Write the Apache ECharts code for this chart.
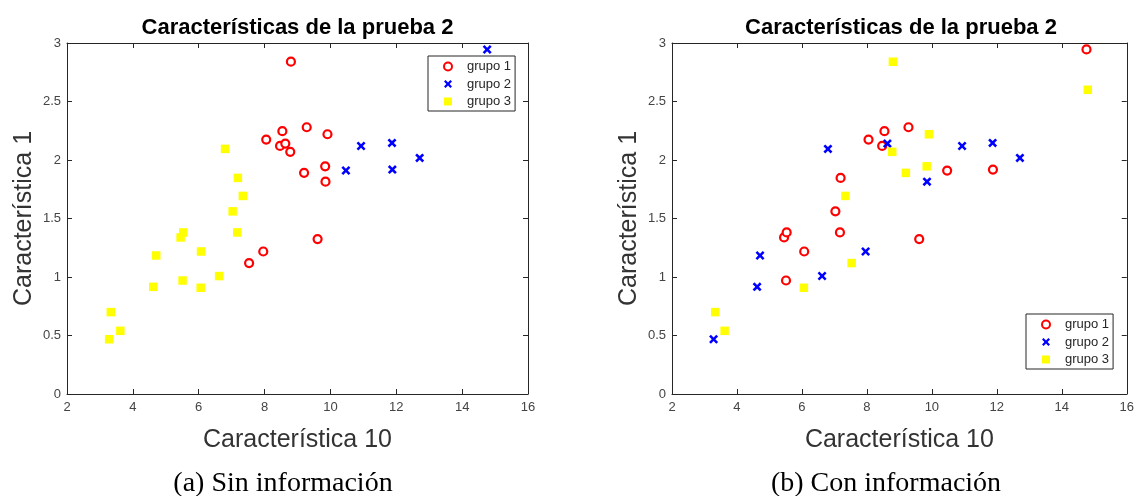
<!DOCTYPE html>
<html><head><meta charset="utf-8">
<script src="https://cdn.jsdelivr.net/npm/echarts@6/dist/echarts.min.js"></script>
<style>html,body{margin:0;padding:0;background:#fff}#c{width:1137px;height:496px}</style>
</head><body><div id="c"></div>
<script>
// ---- data (x = Característica 10, y = Característica 1) ----
const groupNames = ['grupo 1', 'grupo 2', 'grupo 3'];
const xRange = [2, 16, 2];      // min, max, tick interval
const yRange = [0, 3, 0.5];
const chartTitle = 'Características de la prueba 2';
const xName = 'Característica 10';
const yName = 'Característica 1';
const captions = ['(a) Sin información', '(b) Con información'];

// (a) Sin información
const g1Left = [[8.80,2.84],[8.05,2.175],[8.54,2.246],[9.28,2.28],[8.47,2.12],[8.63,2.14],[8.78,2.07],[9.20,1.89],[9.91,2.22],[9.84,1.946],[9.85,1.815],[9.61,1.324],[7.53,1.119],[7.96,1.218]];
const g2Left = [[14.76,2.945],[10.93,2.12],[11.87,2.146],[10.47,1.91],[11.88,1.918],[12.71,2.018],[14.80,2.60]];
const g3Left = [[3.33,0.70],[3.62,0.54],[3.28,0.468],[4.71,1.184],[4.62,0.916],[5.45,1.338],[5.53,1.381],[5.51,0.970],[6.07,1.218],[6.06,0.908],[6.62,1.008],[7.03,1.561],[7.17,1.381],[6.80,2.095],[7.19,1.847],[7.34,1.693]];

// (b) Con información
const g1Right = [[8.05,2.175],[7.19,1.847],[7.03,1.561],[14.76,2.945],[8.54,2.246],[9.28,2.28],[8.47,2.12],[10.47,1.91],[11.88,1.918],[9.61,1.324],[7.17,1.381],[5.45,1.338],[5.53,1.381],[5.51,0.970],[6.07,1.218]];
const g2Right = [[6.80,2.095],[8.63,2.14],[9.85,1.815],[10.93,2.12],[11.87,2.146],[12.71,2.018],[7.96,1.218],[4.71,1.184],[4.62,0.916],[6.62,1.008],[3.28,0.468]];
const g3Right = [[7.34,1.693],[8.80,2.84],[14.80,2.60],[8.78,2.07],[9.91,2.22],[9.84,1.946],[9.20,1.89],[7.53,1.119],[6.06,0.908],[3.33,0.70],[3.62,0.54]];

// ---- chart ----
const SANS = 'Liberation Sans, Arial, sans-serif';
const SERIF = 'Liberation Serif, Times New Roman, serif';
const AX = '#262626';
const crossPath = 'path://M0,2L2,0L5,3L8,0L10,2L7,5L10,8L8,10L5,7L2,10L0,8L3,5Z';

const grids = [
  {left: 67, top: 43, width: 461, height: 351},
  {left: 672, top: 43, width: 459, height: 351}
];

const xAxes = [], yAxes = [];
grids.forEach((g, gi) => {
  const common = {gridIndex: gi, type: 'value', splitLine: {show: false},
    axisLine: {show: true, onZero: false, lineStyle: {color: AX, width: 1}},
    axisTick: {show: true, inside: true, length: 5, lineStyle: {color: AX}}};
  xAxes.push(Object.assign({}, common, {min: xRange[0], max: xRange[1], interval: xRange[2], position: 'bottom',
    axisLabel: {color: '#444', fontFamily: SANS, fontSize: 13, margin: 7},
    name: xName, nameLocation: 'middle', nameGap: 34,
    nameTextStyle: {fontFamily: SANS, fontSize: 25, color: '#333'}}));
  xAxes.push(Object.assign({}, common, {min: xRange[0], max: xRange[1], interval: xRange[2], position: 'top',
    axisLabel: {show: false}}));
  yAxes.push(Object.assign({}, common, {min: yRange[0], max: yRange[1], interval: yRange[2], position: 'left',
    axisLabel: {color: '#444', fontFamily: SANS, fontSize: 13, margin: 6},
    name: yName, nameLocation: 'middle', nameGap: 30,
    nameTextStyle: {fontFamily: SANS, fontSize: 25, color: '#333'}}));
  yAxes.push(Object.assign({}, common, {min: yRange[0], max: yRange[1], interval: yRange[2], position: 'right',
    axisLabel: {show: false}}));
});

const styles = [
  {symbol: 'circle', symbolSize: 8, itemStyle: {color: '#ffffff', borderColor: '#ff0000', borderWidth: 2.2, opacity: 1}},
  {symbol: crossPath, symbolSize: 9, itemStyle: {color: '#0000ff', borderWidth: 0, opacity: 1}},
  {symbol: 'rect', symbolSize: 8.5, itemStyle: {color: '#ffff00', borderWidth: 0, opacity: 1}}
];
const leftData = [g1Left, g2Left, g3Left];
const rightData = [g1Right, g2Right, g3Right];

const series = [];
[leftData, rightData].forEach((set, pi) => {
  set.forEach((d, k) => {
    series.push(Object.assign({type: 'scatter', name: groupNames[k], data: d,
      xAxisIndex: pi * 2, yAxisIndex: pi * 2, z: 2}, styles[k]));
  });
});

function legendAt(left, top) {
  return {left: left, top: top, orient: 'vertical', itemWidth: 8, itemHeight: 8, itemGap: 4.5,
    padding: [4, 4, 3, 15], borderColor: AX, borderWidth: 1, backgroundColor: '#ffffff',
    selectedMode: false, z: 10,
    textStyle: {fontFamily: SANS, fontSize: 13, color: AX, padding: [0, 0, 0, 10]},
    data: groupNames};
}

const option = {
  animation: false,
  backgroundColor: '#ffffff',
  title: [
    {text: chartTitle, left: 297.5, top: 17, textAlign: 'center', padding: 0,
      textStyle: {fontFamily: SANS, fontSize: 22, fontWeight: 'bold', color: '#000'}},
    {text: chartTitle, left: 901, top: 17, textAlign: 'center', padding: 0,
      textStyle: {fontFamily: SANS, fontSize: 22, fontWeight: 'bold', color: '#000'}},
    {text: captions[0], left: 283, top: 470, textAlign: 'center', padding: 0,
      textStyle: {fontFamily: SERIF, fontSize: 28, fontWeight: 'normal', color: '#000'}},
    {text: captions[1], left: 886, top: 470, textAlign: 'center', padding: 0,
      textStyle: {fontFamily: SERIF, fontSize: 28, fontWeight: 'normal', color: '#000'}}
  ],
  legend: [legendAt(428, 56), legendAt(1026, 314)],
  grid: grids,
  xAxis: xAxes,
  yAxis: yAxes,
  series: series
};

const chart = echarts.init(document.getElementById('c'), null, {renderer: 'canvas'});
chart.setOption(option);
</script>
</body></html>
